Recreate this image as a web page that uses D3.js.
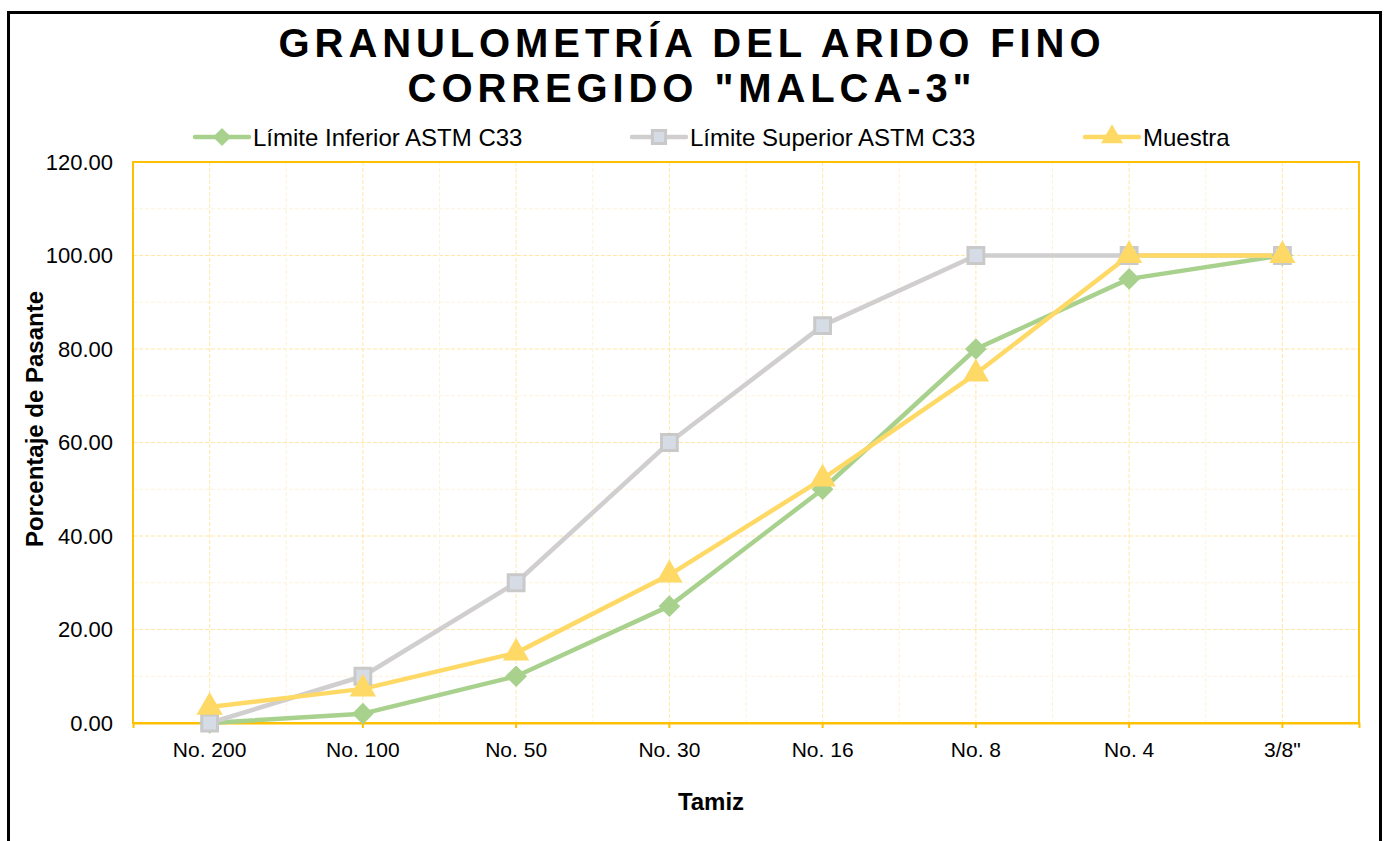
<!DOCTYPE html>
<html>
<head>
<meta charset="utf-8">
<script src="https://cdn.jsdelivr.net/npm/d3@7"></script>
<style>
  body { margin: 0; background: #fff; }
  svg { display: block; font-family: "Liberation Sans", Arial, sans-serif; }
</style>
</head>
<body>
<svg id="chart"></svg>
<script>
// sieve names on the x axis
const tamices = ['No. 200', 'No. 100', 'No. 50', 'No. 30', 'No. 16', 'No. 8', 'No. 4', '3/8"'];
// % passing
const limInferior = [0, 2, 10, 25, 50, 80, 95, 100];
const limSuperior = [0, 10, 30, 60, 85, 100, 100, 100];
const muestra = [3.4, 7.3, 15.0, 31.7, 52.2, 74.7, 100, 100];
const yTicks = [0, 20, 40, 60, 80, 100, 120];

const W = 1387, H = 841;
const marg = { top: 162, right: 28, bottom: 118, left: 133 };
const w = W - marg.left - marg.right; // ~1226
const h = H - marg.top - marg.bottom; // ~561

const svg = d3.select('#chart').attr('width', W).attr('height', H);

// outer frame (bottom runs off the page in the original)
svg.append('rect')
  .attr('x', 8.5).attr('y', 12.5)
  .attr('width', 1372).attr('height', 860)
  .attr('fill', 'none').attr('stroke', '#000').attr('stroke-width', 3);

const x = d3.scaleBand().domain(tamices).range([marg.left, marg.left + w]);
const xc = d => x(d) + x.bandwidth() / 2;
const y = d3.scaleLinear().domain([0, 120]).range([marg.top + h, marg.top]);

const grid = svg.append('g');
// minor horizontal lines every 10
d3.range(10, 120, 20).forEach(v => {
  grid.append('line')
    .attr('x1', marg.left).attr('x2', marg.left + w)
    .attr('y1', y(v)).attr('y2', y(v))
    .attr('stroke', '#fdf3dc').attr('stroke-width', 1).attr('stroke-dasharray', '4,2');
});
// major horizontal lines every 20
yTicks.slice(1, -1).forEach(v => {
  grid.append('line')
    .attr('x1', marg.left).attr('x2', marg.left + w)
    .attr('y1', y(v)).attr('y2', y(v))
    .attr('stroke', '#ffe7a8').attr('stroke-width', 1).attr('stroke-dasharray', '4,2');
});
// vertical lines at band edges (faint) and centres
tamices.forEach((t, i) => {
  if (i > 0) {
    grid.append('line')
      .attr('x1', x(t)).attr('x2', x(t))
      .attr('y1', marg.top).attr('y2', marg.top + h)
      .attr('stroke', '#fdf3dc').attr('stroke-width', 1).attr('stroke-dasharray', '4,2');
  }
  grid.append('line')
    .attr('x1', xc(t)).attr('x2', xc(t))
    .attr('y1', marg.top).attr('y2', marg.top + h)
    .attr('stroke', '#ffe7a8').attr('stroke-width', 1).attr('stroke-dasharray', '4,2');
});

// plot border
svg.append('rect')
  .attr('x', marg.left).attr('y', marg.top)
  .attr('width', w).attr('height', h)
  .attr('fill', 'none').attr('stroke', '#ffc000').attr('stroke-width', 2);

// y axis labels
const yAxis = d3.axisLeft(y).tickValues(yTicks).tickFormat(d3.format('.2f')).tickSize(0).tickPadding(20);
svg.append('g')
  .attr('transform', 'translate(' + marg.left + ',0)')
  .call(yAxis)
  .attr('font-size', 22).attr('font-family', null)
  .call(g => g.select('.domain').remove())
  .selectAll('text').attr('fill', '#000');

// x axis: ticks at category centres
const xAxis = d3.axisBottom(x).tickSize(5).tickPadding(14);
svg.append('g')
  .attr('transform', 'translate(0,' + (marg.top + h) + ')')
  .call(xAxis)
  .attr('font-size', 21).attr('font-family', null)
  .call(g => g.select('.domain').attr('stroke', '#ffc000').attr('stroke-width', 2))
  .call(g => g.selectAll('.tick line').attr('stroke', '#ffc000').attr('stroke-width', 2))
  .selectAll('text').attr('fill', '#000');

// series
const series = [
  { name: 'Límite Inferior ASTM C33', vals: limInferior, color: '#a9d18e', sym: d3.symbolDiamond2, fill: '#a9d18e', stroke: 'none', size: 300 },
  { name: 'Límite Superior ASTM C33', vals: limSuperior, color: '#d0cece', sym: d3.symbolSquare, fill: '#d6dce5', stroke: '#c9c9c9', size: 250 },
  { name: 'Muestra', vals: muestra, color: '#ffd966', sym: d3.symbolTriangle, fill: '#ffd966', stroke: 'none', size: 300 }
];

const line = d3.line().x((d, i) => xc(tamices[i])).y(d => y(d));

series.forEach(s => {
  svg.append('path')
    .datum(s.vals)
    .attr('d', line)
    .attr('fill', 'none')
    .attr('stroke', s.color)
    .attr('stroke-width', 4.5)
    .attr('stroke-linejoin', 'round');
});
series.forEach(s => {
  svg.append('g').selectAll('path')
    .data(s.vals)
    .enter()
    .append('path')
    .attr('d', d3.symbol().type(s.sym).size(s.size))
    .attr('transform', (d, i) => 'translate(' + xc(tamices[i]) + ',' + y(d) + ')')
    .attr('fill', s.fill)
    .attr('stroke', s.stroke)
    .attr('stroke-width', s.stroke === 'none' ? 0 : 3);
});

// legend
const legX = [195, 632, 1085];
const leg = svg.append('g');
series.forEach((s, i) => {
  const g = leg.append('g').attr('transform', 'translate(' + legX[i] + ',137)');
  g.append('line').attr('x1', 0).attr('x2', 54).attr('y1', 0).attr('y2', 0)
    .attr('stroke', s.color).attr('stroke-width', 4.5).attr('stroke-linecap', 'round');
  g.append('path')
    .attr('d', d3.symbol().type(s.sym).size(s.size * 0.7))
    .attr('transform', 'translate(27,0)')
    .attr('fill', s.fill).attr('stroke', s.stroke)
    .attr('stroke-width', s.stroke === 'none' ? 0 : 3);
  g.append('text').attr('x', 58).attr('y', 8.5)
    .attr('font-size', 24).text(s.name);
});

// title
const title = svg.append('text')
  .attr('text-anchor', 'middle')
  .attr('font-size', 40).attr('font-weight', 'bold')
  .attr('letter-spacing', 4.9);
title.append('tspan').attr('x', 692).attr('y', 57).text('GRANULOMETRÍA DEL ARIDO FINO');
title.append('tspan').attr('x', 692).attr('y', 102).text('CORREGIDO "MALCA-3"');

// axis titles
svg.append('text')
  .attr('x', 711).attr('y', 810)
  .attr('text-anchor', 'middle')
  .attr('font-size', 24).attr('font-weight', 'bold')
  .text('Tamiz');

svg.append('text')
  .attr('transform', 'translate(43,419) rotate(-90)')
  .attr('text-anchor', 'middle')
  .attr('font-size', 24).attr('font-weight', 'bold')
  .text('Porcentaje de Pasante');
</script>
</body>
</html>
